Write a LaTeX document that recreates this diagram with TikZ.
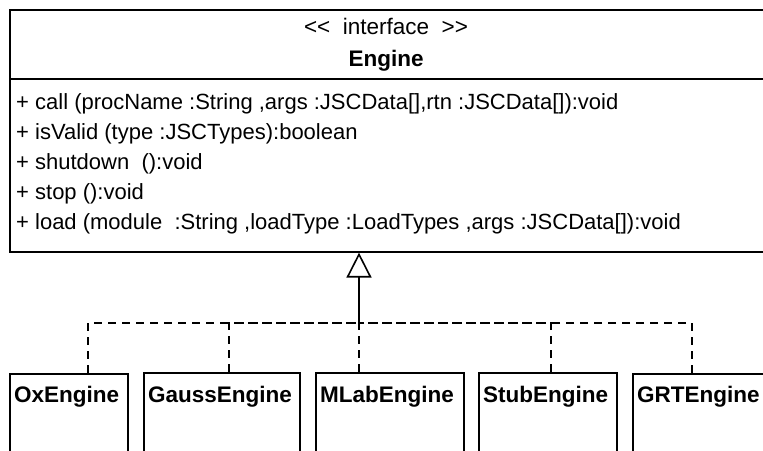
\documentclass[tikz,border=0pt]{standalone}
\usepackage{fontspec}
\newfontfamily\umlfont{Liberation Sans}
\usetikzlibrary{arrows.meta,positioning}
\tikzset{
  classbox/.style={draw, line width=1.6pt, fill=white, anchor=north west, inner sep=0pt},
  member/.style={anchor=base west, inner sep=0pt, font=\umlfont\fontsize{22}{27}\selectfont},
  stereotype/.style={anchor=base, inner sep=0pt, font=\umlfont\fontsize{22.5}{27}\selectfont},
  classname/.style={anchor=base, inner sep=0pt, font=\umlfont\bfseries\fontsize{22.5}{27}\selectfont},
  implname/.style={anchor=base west, inner sep=0pt, font=\umlfont\bfseries\fontsize{22.5}{27}\selectfont},
  realize/.style={draw, line width=1.6pt, dash pattern=on 8pt off 6pt},
  generalize/.style={draw, line width=1.6pt, -{Triangle[open,length=25pt,width=25pt]}},
}
\begin{document}
\begin{tikzpicture}[x=1pt,y=1pt]
\useasboundingbox (0,0) rectangle (763,450);
\clip (0,0) rectangle (763,450);
% interface
\node[classbox, minimum width=770pt, minimum height=241.5pt] (engine) at (9,440.5) {};
\draw[line width=1.6pt] ([yshift=-69.5pt]engine.north west) -- ([yshift=-69.5pt]engine.north east);
\node[stereotype] (stereo) at (386,415) {\textless\textless\ \ interface\ \ \textgreater\textgreater};
\node[classname] (title) at (386,383) {Engine};
\node[member] (call) at (16,340) {+ call (procName :String ,args :JSCData[],rtn :JSCData[]):void};
\node[member] (isvalid) at (16,310) {+ isValid (type :JSCTypes):boolean};
\node[member] (shutdown) at (16,280) {+ shutdown\ \ ():void};
\node[member] (stop) at (16,250) {+ stop ():void};
\node[member] (load) at (16,220) {+ load (module\ \ :String ,loadType :LoadTypes ,args :JSCData[]):void};
% implementations
\node[classbox, minimum width=118pt, minimum height=100pt] (ox) at (9,77) {};
\node[classbox, minimum width=156pt, minimum height=100pt] (gauss) at (143,78) {};
\node[classbox, minimum width=148pt, minimum height=100pt] (mlab) at (315,78) {};
\node[classbox, minimum width=138pt, minimum height=100pt] (stub) at (478,78) {};
\node[classbox, minimum width=150pt, minimum height=100pt] (grt) at (632,77) {};
\node[implname] (oxname) at ([xshift=5pt,yshift=-29pt]ox.north west) {OxEngine};
\node[implname] (gaussname) at ([xshift=5pt,yshift=-30pt]gauss.north west) {GaussEngine};
\node[implname] (mlabname) at ([xshift=5pt,yshift=-30pt]mlab.north west) {MLabEngine};
\node[implname] (stubname) at ([xshift=5pt,yshift=-30pt]stub.north west) {StubEngine};
\node[implname] (grtname) at ([xshift=5pt,yshift=-29pt]grt.north west) {GRTEngine};
% realization
\coordinate (bus) at (359,127);
\draw[generalize] (bus) -- (bus |- engine.south);
\draw[realize] ([xshift=79pt]ox.north west) |- (bus);
\draw[realize] ([xshift=86pt]gauss.north west) |- (bus);
\draw[realize] ([xshift=44pt]mlab.north west) -- (bus);
\draw[realize] ([xshift=73pt]stub.north west) |- (bus);
\draw[realize] ([xshift=60pt]grt.north west) |- (bus);
\end{tikzpicture}
\end{document}
